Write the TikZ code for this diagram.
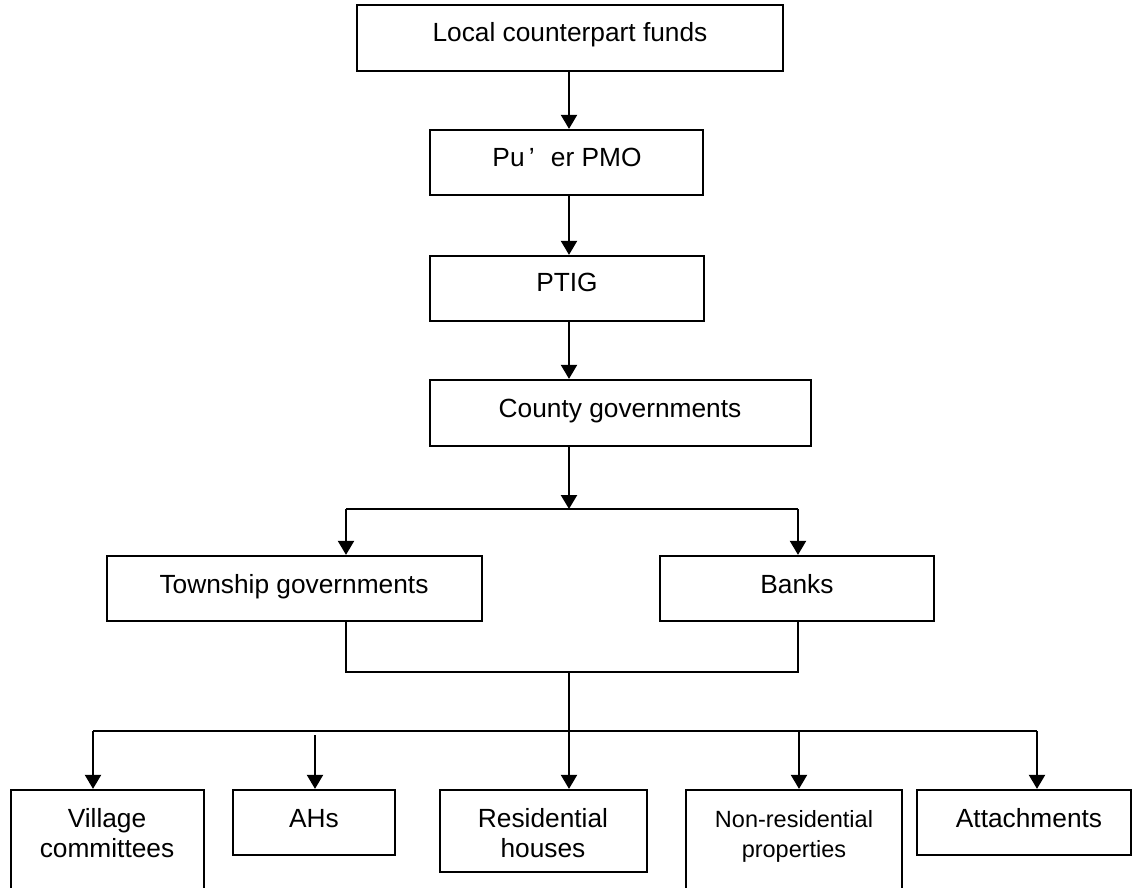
\documentclass[tikz,border=0pt]{standalone}
\usepackage{fontspec}
\setmainfont{Liberation Sans}
\usetikzlibrary{arrows.meta,fit,calc}
\begin{document}
\begin{tikzpicture}[x=0.5pt,y=-0.5pt,
  box/.style={draw, line width=1.15pt, inner sep=0pt},
  txt/.style={anchor=base, inner sep=0pt, align=center, font=\fontsize{13.15pt}{15pt}\selectfont},
  smalltxt/.style={anchor=base, inner sep=0pt, align=center, font=\fontsize{11.75pt}{15pt}\selectfont},
  arr/.style={line width=1.2pt, -{Triangle[length=7pt,width=8pt]}},
  ln/.style={line width=1.2pt}]
\useasboundingbox (0,0) rectangle (1132,888);
\clip (0,0) rectangle (1132,888);
\fill[white] (0,0) rectangle (1132,888);

% boxes
\node[box, fit={(357,5)(783,71)}] (top) {};
\node[box, fit={(430,130)(703,195)}] (pmo) {};
\node[box, fit={(430,256)(704,321)}] (ptig) {};
\node[box, fit={(430,380)(811,446)}] (county) {};
\node[box, fit={(107,556)(482,621)}] (town) {};
\node[box, fit={(660,556)(934,621)}] (banks) {};
\node[box, fit={(11,790)(204,900)}] (village) {};
\node[box, fit={(233,790)(395,855)}] (ahs) {};
\node[box, fit={(440,790)(647,872)}] (res) {};
\node[box, fit={(686,790)(902,900)}] (nonres) {};
\node[box, fit={(917,790)(1131,855)}] (att) {};

% texts (multi-line nodes: base is the last line)
\node[txt] (top-t) at (570,42) {Local counterpart funds};
\node[txt] (pmo-t) at (567,167) {Pu\makebox[1em][l]{\,’}er PMO};
\node[txt] (ptig-t) at (567,292) {PTIG};
\node[txt] (county-t) at (620,417) {County governments};
\node[txt] (town-t) at (294,593) {Township governments};
\node[txt] (banks-t) at (797,593) {Banks};
\node[txt] (village-t) at (107,857) {Village\\committees};
\node[txt] (ahs-t) at (314,827) {AHs};
\node[txt] (res-t) at (543,857) {Residential\\houses};
\node[smalltxt] (nonres-t) at (794,857) {Non-residential\\properties};
\node[txt] (att-t) at (1029,827) {Attachments};

% connector coordinates
\coordinate (spine) at (569,0);
\coordinate (jl) at (346,509);
\coordinate (jr) at (798,509);
\coordinate (jc) at (569,509);
\coordinate (m) at (569,672);
\coordinate (bl) at (93,731);
\coordinate (br) at (1037,731);
\coordinate (ahsx) at (315,735);
\coordinate (nrx) at (799,731);

% connectors
\draw[arr] (top.south -| spine) -- (pmo.north -| spine);
\draw[arr] (pmo.south -| spine) -- (ptig.north -| spine);
\draw[arr] (ptig.south -| spine) -- (county.north -| spine);
\draw[arr] (county.south -| spine) -- (jc);
\draw[ln] (jl) -- (jr);
\draw[arr] (jl) -- (jl |- town.north);
\draw[arr] (jr) -- (jr |- banks.north);
\draw[ln] (town.south -| jl) -- (jl |- m) -- (jr |- m) -- (banks.south -| jr);
\draw[arr] (m) -- (m |- res.north);
\draw[ln] (bl) -- (br);
\draw[arr] (bl) -- (bl |- village.north);
\draw[arr] (ahsx) -- (ahsx |- ahs.north);
\draw[arr] (nrx) -- (nrx |- nonres.north);
\draw[arr] (br) -- (br |- att.north);
\end{tikzpicture}
\end{document}
